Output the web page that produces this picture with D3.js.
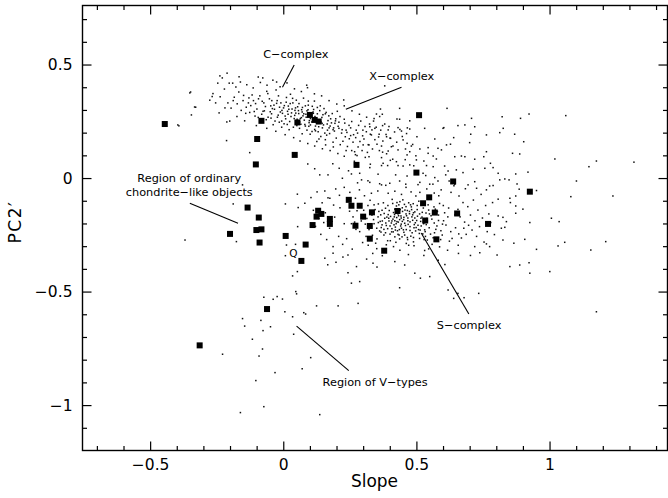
<!DOCTYPE html>
<html>
<head>
<meta charset="utf-8">
<script src="https://cdn.jsdelivr.net/npm/d3@7"></script>
<style>
  html, body { margin: 0; padding: 0; background: #fff; }
  svg { display: block; }
</style>
</head>
<body>
<svg id="chart" width="668" height="498"></svg>
<script>
// ---- axis ticks ----
const xMajor = [-0.5, 0, 0.5, 1];
const xMajorLabels = ["\u22120.5", "0", "0.5", "1"];
const yMajor = [-1, -0.5, 0, 0.5];
const yMajorLabels = ["\u22121", "\u22120.5", "0", "0.5"];
const xMinor = [-0.7, -0.6, -0.4, -0.3, -0.2, -0.1, 0.1, 0.2, 0.3, 0.4, 0.6, 0.7, 0.8, 0.9, 1.1, 1.2, 1.3, 1.4];
const yMinor = [-1.1, -0.9, -0.8, -0.7, -0.6, -0.4, -0.3, -0.2, -0.1, 0.1, 0.2, 0.3, 0.4, 0.6, 0.7];

// ---- highlighted objects (slope, PC2') ----
const objects = [
  [-0.445, 0.238], [-0.082, 0.252], [0.053, 0.245], [0.100, 0.278], [0.118, 0.256], [0.133, 0.249],
  [-0.098, 0.172], [0.043, 0.102], [-0.103, 0.060], [0.275, 0.058], [0.510, 0.277], [0.500, 0.024],
  [0.638, -0.015], [0.926, -0.060], [0.246, -0.096], [0.256, -0.122], [0.287, -0.122], [0.548, -0.085],
  [0.525, -0.111], [0.429, -0.145], [0.333, -0.151], [0.569, -0.152], [0.653, -0.156], [0.131, -0.144],
  [0.143, -0.158], [0.125, -0.170], [0.175, -0.180], [0.175, -0.202], [0.300, -0.170], [0.533, -0.187],
  [0.110, -0.207], [0.271, -0.210], [0.325, -0.211], [0.769, -0.202], [0.009, -0.255], [0.325, -0.267],
  [0.575, -0.270], [0.084, -0.293], [0.379, -0.320], [-0.134, -0.130], [-0.092, -0.174], [-0.101, -0.229],
  [-0.082, -0.226], [-0.200, -0.246], [-0.089, -0.284], [0.068, -0.365], [-0.061, -0.577], [-0.314, -0.737]
];

// ---- survey population: C- and X-complex ----
const dotsCX = [
  [0.031,0.287],[-0.112,0.341],[0.176,0.229],[0.064,0.262],[-0.047,0.318],[0.219,0.198],[0.093,0.301],[-0.184,0.356],[0.142,0.247],[0.007,0.273],
  [-0.071,0.296],[0.248,0.173],[0.118,0.214],[-0.023,0.341],[0.081,0.236],[-0.139,0.312],[0.197,0.261],[0.046,0.309],[-0.094,0.267],[0.163,0.189],
  [0.012,0.355],[0.274,0.211],[0.128,0.283],[-0.058,0.372],[0.101,0.193],[-0.208,0.331],[0.059,0.328],[0.231,0.242],[-0.031,0.251],[0.153,0.306],
  [0.086,0.268],[-0.167,0.379],[0.187,0.158],[-0.005,0.298],[0.117,0.339],[-0.126,0.289],[0.298,0.186],[0.038,0.224],[-0.079,0.338],[0.206,0.228],
  [0.071,0.291],[-0.044,0.283],[0.134,0.172],[0.019,0.317],[-0.151,0.341],[0.257,0.249],[0.097,0.244],[-0.018,0.362],[0.171,0.274],[0.052,0.259],
  [-0.099,0.304],[0.224,0.162],[0.109,0.316],[-0.064,0.257],[0.147,0.221],[-0.196,0.308],[0.003,0.239],[0.283,0.232],[0.076,0.352],[-0.035,0.321],
  [0.192,0.207],[0.124,0.259],[-0.117,0.366],[0.043,0.276],[0.241,0.139],[-0.009,0.331],[0.158,0.283],[-0.081,0.281],[0.089,0.211],[0.027,0.369],
  [-0.141,0.285],[0.213,0.271],[0.066,0.237],[-0.052,0.349],[0.137,0.297],[0.312,0.204],[-0.022,0.268],[0.102,0.262],[-0.173,0.327],[0.181,0.243],
  [0.049,0.343],[-0.067,0.315],[0.264,0.191],[0.121,0.229],[0.016,0.294],[-0.104,0.328],[0.166,0.211],[0.083,0.318],[-0.038,0.235],[0.229,0.259],
  [0.058,0.284],[-0.129,0.353],[0.145,0.267],[0.009,0.261],[0.199,0.176],[-0.088,0.362],[0.113,0.285],[0.036,0.331],[-0.014,0.312],[0.253,0.221],
  [0.168,0.253],[-0.158,0.298],[0.074,0.274],[0.131,0.204],[-0.049,0.292],[0.288,0.161],[0.024,0.249],[-0.106,0.273],[0.209,0.246],[0.094,0.339],
  [-0.027,0.388],[0.151,0.234],[0.061,0.219],[-0.073,0.331],[0.184,0.284],[0.011,0.334],[0.239,0.201],[-0.122,0.319],[0.107,0.247],[0.044,0.298],
  [-0.057,0.268],[0.174,0.196],[0.085,0.281],[-0.188,0.341],[0.139,0.318],[0.272,0.178],[-0.003,0.285],[0.119,0.271],[0.054,0.314],[-0.093,0.349],
  [0.221,0.213],[0.029,0.271],[-0.041,0.306],[0.158,0.169],[0.096,0.228],[-0.149,0.364],[0.203,0.294],[0.069,0.301],[-0.015,0.246],[0.126,0.241],
  [0.247,0.232],[-0.076,0.294],[0.035,0.351],[0.189,0.221],[0.104,0.277],[-0.131,0.331],[0.001,0.309],[0.161,0.289],[0.307,0.227],[-0.062,0.382],
  [0.079,0.255],[0.141,0.183],[-0.025,0.329],[0.233,0.182],[0.048,0.248],[-0.109,0.293],[0.196,0.252],[0.114,0.302],[-0.046,0.264],[0.021,0.303],
  [0.018,0.281],[0.057,0.297],[0.098,0.253],[0.133,0.226],[0.072,0.311],[-0.011,0.291],[0.165,0.238],[0.041,0.262],[0.112,0.291],[0.187,0.213],
  [-0.033,0.303],[0.083,0.229],[0.149,0.279],[0.026,0.328],[0.121,0.208],[0.062,0.247],[-0.019,0.277],[0.178,0.261],[0.094,0.321],[0.139,0.252],
  [0.004,0.319],[0.051,0.231],[0.209,0.219],[0.116,0.263],[-0.043,0.341],[0.077,0.283],[0.156,0.198],[0.033,0.304],[0.102,0.234],[0.194,0.241],
  [0.068,0.266],[-0.006,0.251],[0.128,0.311],[0.172,0.221],[0.047,0.286],[0.089,0.296],[0.236,0.211],[0.015,0.236],[0.146,0.241],[0.108,0.205],
  [-0.237,0.358],[-0.254,0.331],[-0.221,0.392],[-0.264,0.372],[-0.219,0.309],[-0.241,0.287],[-0.276,0.343],[-0.203,0.418],[-0.178,0.401],[-0.229,0.441],
  [-0.161,0.423],[-0.137,0.411],[-0.113,0.397],[-0.086,0.421],[-0.061,0.409],[-0.039,0.431],[-0.012,0.402],[0.014,0.419],[0.042,0.393],[0.068,0.381],
  [0.091,0.398],[0.117,0.371],[0.144,0.362],[0.172,0.341],[0.201,0.326],[0.229,0.318],[0.258,0.296],[0.286,0.281],[0.313,0.268],[0.339,0.251],
  [-0.094,0.445],[-0.077,0.441],[-0.025,0.423],[0.088,0.409],[-0.166,0.446],[-0.211,0.462],[-0.145,0.252],[-0.101,0.231],[-0.062,0.219],[-0.028,0.206],
  [0.007,0.191],[0.039,0.178],[0.063,0.163],[0.092,0.152],[0.118,0.141],[0.147,0.129],[0.176,0.121],[0.205,0.108],[0.229,0.096],[0.257,0.121],
  [-0.212,0.247],[-0.201,0.251],[-0.174,0.271],[0.022,0.213],[-0.006,0.224],[0.071,0.195],[0.126,0.161],[0.159,0.146],[0.188,0.137],[0.214,0.147],
  [0.262,0.158],[0.281,0.137],[0.303,0.172],[0.327,0.193],[0.319,0.147],[0.344,0.169],[0.296,0.121],[0.335,0.128],[0.358,0.181],[0.352,0.149],
  [0.271,0.103],[0.308,0.091],[0.366,0.211],[0.374,0.163],[0.386,0.192],[0.291,0.251],[0.324,0.238],[0.349,0.224],[0.316,0.113],[0.267,0.074],
  [0.381,0.238],[0.397,0.227],[0.341,0.262],[0.362,0.271],[0.279,0.198],[0.253,0.187],[0.299,0.211],[0.236,0.121],[0.333,0.212],[0.361,0.121],
  [0.401,0.176],[0.418,0.203],[0.426,0.158],[0.412,0.141],[0.447,0.183],[0.438,0.214],[0.463,0.196],[0.388,0.107],[0.411,0.083],[0.459,0.128],
  [0.381,0.406],[0.227,0.344],[0.437,0.307],[0.365,0.304],[0.372,0.281],[0.350,0.282],[0.475,0.252],[0.427,0.260],[0.437,0.259],[0.402,0.078],
  [0.486,0.148],[0.490,0.054],[0.498,0.098],[0.466,0.221],[0.458,0.081]
];

// ---- survey population: between the complexes ----
const dotsMid = [
  [0.325,0.226],[0.344,0.219],[0.373,0.231],[0.394,0.212],[0.431,0.222],[0.444,0.207],[0.475,0.216],[0.531,0.219],[0.600,0.219],
  [0.331,0.190],[0.360,0.193],[0.388,0.182],[0.403,0.175],[0.450,0.168],[0.502,0.182],[0.569,0.172],
  [0.300,0.146],[0.322,0.146],[0.369,0.141],[0.406,0.138],[0.465,0.153],[0.481,0.141],[0.513,0.128],[0.544,0.134],
  [0.581,0.131],[0.613,0.146],[0.628,0.149],
  [0.268,0.116],[0.277,0.099],[0.322,0.094],[0.373,0.114],[0.394,0.119],[0.431,0.124],[0.465,0.102],[0.475,0.116],
  [0.544,0.109],[0.563,0.097],[0.644,0.094],
  [0.369,0.090],[0.375,0.065],[0.425,0.072],[0.500,0.080],[0.528,0.075],[0.575,0.084],
  [0.327,0.061],[0.325,0.046],[0.369,0.055],[0.392,0.055],[0.431,0.055],[0.450,0.053],[0.475,0.058],[0.538,0.055],
  [0.563,0.050],[0.606,0.053],
  [0.256,0.018],[0.287,0.021],[0.356,0.017],[0.422,0.014],[0.465,0.009],[0.525,0.021],[0.535,0.011],[0.569,0.002],
  [0.610,0.014],[0.619,0.031],[0.650,0.036],
  [0.168,0.014],[0.222,-0.001],[0.294,-0.008],[0.325,-0.019],[0.369,-0.030],[0.400,-0.023],[0.437,-0.013],[0.460,-0.027],
  [0.513,-0.019],[0.550,-0.027],[0.581,-0.013],[0.623,-0.013],[0.644,-0.027],
  [0.137,0.014],[0.053,-0.071],[0.081,-0.111],[0.156,-0.057],[0.175,-0.089],[0.210,0.043],[0.245,0.032],[0.118,0.041],
  [0.056,-0.130],[0.008,-0.114],[0.092,0.062],[0.186,0.063],[0.054,-0.214],[0.012,-0.295]
];

// ---- survey population: S-complex ----
const dotsS = [
  [0.452,-0.183],[0.371,-0.142],[0.518,-0.211],[0.413,-0.237],[0.297,-0.168],[0.566,-0.127],[0.438,-0.104],[0.489,-0.262],[0.341,-0.201],[0.602,-0.188],
  [0.461,-0.158],[0.392,-0.276],[0.536,-0.154],[0.427,-0.192],[0.318,-0.121],[0.647,-0.219],[0.481,-0.127],[0.403,-0.169],[0.553,-0.247],[0.362,-0.233],
  [0.444,-0.221],[0.509,-0.102],[0.268,-0.194],[0.583,-0.163],[0.419,-0.137],[0.471,-0.296],[0.333,-0.163],[0.528,-0.183],[0.387,-0.209],[0.621,-0.132],
  [0.456,-0.251],[0.409,-0.094],[0.496,-0.197],[0.352,-0.268],[0.573,-0.226],[0.431,-0.158],[0.287,-0.236],[0.544,-0.118],[0.468,-0.176],[0.381,-0.177],
  [0.512,-0.266],[0.664,-0.171],[0.423,-0.283],[0.326,-0.098],[0.489,-0.153],[0.597,-0.251],[0.447,-0.131],[0.364,-0.191],[0.531,-0.228],[0.401,-0.247],
  [0.476,-0.214],[0.249,-0.146],[0.558,-0.181],[0.416,-0.206],[0.345,-0.139],[0.634,-0.266],[0.503,-0.139],[0.437,-0.268],[0.393,-0.121],[0.587,-0.112],
  [0.462,-0.227],[0.308,-0.203],[0.521,-0.172],[0.378,-0.251],[0.449,-0.096],[0.611,-0.207],[0.484,-0.241],[0.357,-0.114],[0.541,-0.273],[0.426,-0.174],
  [0.281,-0.121],[0.567,-0.198],[0.494,-0.176],[0.408,-0.223],[0.335,-0.252],[0.656,-0.138],[0.471,-0.109],[0.397,-0.189],[0.526,-0.132],[0.443,-0.203],
  [0.366,-0.162],[0.592,-0.232],[0.508,-0.227],[0.419,-0.259],[0.314,-0.178],[0.551,-0.093],[0.457,-0.141],[0.384,-0.133],[0.537,-0.205],[0.467,-0.271],
  [0.229,-0.201],[0.618,-0.171],[0.434,-0.118],[0.499,-0.218],[0.351,-0.221],[0.579,-0.147],[0.414,-0.152],[0.476,-0.193],[0.387,-0.294],[0.524,-0.246],
  [0.442,-0.167],[0.302,-0.142],[0.563,-0.263],[0.488,-0.113],[0.406,-0.198],[0.681,-0.194],[0.453,-0.239],[0.371,-0.206],[0.512,-0.158],[0.428,-0.141],
  [0.339,-0.183],[0.601,-0.121],[0.479,-0.256],[0.394,-0.161],[0.546,-0.141],[0.436,-0.227],[0.262,-0.171],[0.531,-0.196],[0.461,-0.126],[0.378,-0.226],
  [0.577,-0.211],[0.411,-0.112],[0.501,-0.187],[0.347,-0.287],[0.629,-0.236],[0.448,-0.147],[0.322,-0.227],[0.519,-0.116],[0.421,-0.216],[0.486,-0.162],
  [0.359,-0.147],[0.555,-0.166],[0.402,-0.276],[0.469,-0.204],[0.591,-0.271],[0.437,-0.183],[0.293,-0.189],[0.534,-0.257],[0.455,-0.116],[0.376,-0.109],
  [0.514,-0.229],[0.645,-0.162],[0.431,-0.248],[0.367,-0.238],[0.482,-0.139],[0.568,-0.241],[0.417,-0.171],[0.506,-0.208],[0.329,-0.146],[0.462,-0.288],
  [0.389,-0.172],[0.548,-0.219],[0.441,-0.211],[0.606,-0.153],[0.497,-0.233],[0.356,-0.171],[0.522,-0.151],[0.425,-0.123],[0.474,-0.157],[0.311,-0.257],
  [0.583,-0.187],[0.407,-0.237],[0.539,-0.178],[0.453,-0.173],[0.384,-0.241],[0.659,-0.246],[0.489,-0.281],[0.341,-0.118],[0.571,-0.137],[0.432,-0.194],
  [0.273,-0.226],[0.516,-0.191],[0.446,-0.259],[0.372,-0.189],[0.598,-0.203],[0.466,-0.143],[0.398,-0.143],[0.529,-0.271],[0.419,-0.188],[0.492,-0.205],
  [0.447,-0.191],[0.433,-0.166],[0.468,-0.188],[0.459,-0.209],[0.424,-0.201],[0.483,-0.171],[0.412,-0.181],[0.494,-0.149],[0.439,-0.139],[0.476,-0.231],
  [0.401,-0.211],[0.517,-0.177],[0.385,-0.198],[0.451,-0.228],[0.429,-0.232],[0.504,-0.168],[0.463,-0.166],[0.418,-0.161],[0.491,-0.219],[0.396,-0.177],
  [0.527,-0.201],[0.443,-0.176],[0.474,-0.147],[0.408,-0.189],[0.456,-0.199],[0.486,-0.186],[0.421,-0.229],[0.379,-0.156],[0.511,-0.244],[0.435,-0.251],
  [0.541,-0.189],[0.466,-0.262],[0.392,-0.223],[0.503,-0.121],[0.357,-0.196],[0.549,-0.158],[0.427,-0.108],[0.478,-0.118],[0.368,-0.218],[0.533,-0.236],
  [0.104,-0.086],[0.121,-0.213],[0.141,-0.248],[0.158,-0.153],[0.174,-0.221],[0.193,-0.172],[0.168,-0.087],[0.197,-0.048],[0.211,-0.076],[0.223,-0.292],
  [0.238,-0.267],[0.256,-0.201],[0.241,-0.102],[0.259,-0.313],[0.277,-0.144],[0.286,-0.052],[0.298,-0.284],[0.243,-0.339],[0.279,-0.021],[0.305,-0.078],
  [0.319,-0.296],[0.331,-0.067],[0.351,-0.311],[0.355,-0.057],[0.385,-0.032],[0.336,-0.332],[0.372,-0.342],[0.318,-0.012],[0.362,-0.025],[0.394,-0.067],
  [0.414,-0.302],[0.419,-0.058],[0.438,-0.318],[0.444,-0.072],[0.461,-0.041],[0.470,-0.337],[0.480,-0.061],[0.491,-0.298],[0.498,-0.079],[0.513,-0.063],
  [0.531,-0.319],[0.539,-0.048],[0.559,-0.292],[0.567,-0.066],[0.587,-0.303],[0.593,-0.052],[0.528,-0.341],[0.562,-0.027],[0.506,-0.029],[0.546,-0.312],
  [0.584,-0.078],[0.617,-0.318],[0.658,-0.332],[0.641,-0.034],[0.630,-0.063],[0.660,-0.079],[0.684,-0.047],[0.624,-0.278],[0.657,-0.296],[0.669,-0.264],
  [0.687,-0.248],[0.675,-0.108],[0.693,-0.126],[0.678,-0.221],[0.696,-0.208],[0.703,-0.163],[0.709,-0.229],[0.714,-0.097],[0.720,-0.188],[0.726,-0.257],
  [0.731,-0.141],[0.737,-0.214],[0.743,-0.072],[0.748,-0.176],[0.754,-0.282],[0.760,-0.121],[0.766,-0.236],[0.772,-0.158],[0.779,-0.196],[0.786,-0.108],
  [0.793,-0.249],[0.134,-0.178],[0.146,-0.109],[0.187,-0.302],[0.208,-0.257],[0.229,-0.041],[0.250,-0.063],[0.271,-0.089],[0.213,-0.131],[0.189,-0.119],
  [0.163,-0.271],[0.113,-0.142],[0.127,-0.061],[0.152,-0.196]
];

// ---- survey population: scattered outliers ----
const dotsSparse = [
  [-0.369,-0.273],[-0.176,-0.280],[0.008,-0.342],[0.046,-0.292],[0.156,-0.353],[0.187,-0.331],[0.035,-0.431],[0.053,-0.412],
  [0.047,-0.500],[0.050,-0.510],[-0.073,-0.525],[-0.038,-0.534],[-0.023,-0.522],[-0.003,-0.533],[0.006,-0.589],[0.035,-0.611],
  [0.077,-0.593],[0.084,-0.599],[0.125,-0.563],[0.206,-0.563],[-0.153,-0.619],[-0.145,-0.652],[-0.084,-0.627],[-0.048,-0.655],
  [-0.076,-0.672],[0.039,-0.688],[-0.116,-0.710],[-0.228,-0.776],[-0.078,-0.753],[-0.091,-0.784],[0.103,-0.791],[0.071,-0.840],
  [-0.031,-0.857],[-0.103,-0.892],[-0.073,-1.007],[-0.161,-1.033],[0.137,-1.042],[0.281,-0.552],[0.437,-0.483],[0.619,-0.493],
  [0.640,-0.530],[0.656,-0.508],[0.679,-0.527],[0.734,-0.508],[0.243,-0.417],[0.256,-0.463],[0.287,-0.456],[0.337,-0.375],
  [0.275,-0.390],[0.494,-0.419],[0.515,-0.441],[0.550,-0.434],[0.851,-0.390],[0.888,-0.383],[0.923,-0.373],[0.926,-0.419],
  [0.951,-0.314],[1.032,-0.299],[1.155,-0.317],[1.211,-0.280],[1.176,-0.589],[1.001,-0.412],[0.167,-0.382],[0.198,-0.371],
  [0.224,-0.348],[0.313,-0.357],[0.352,-0.392],[0.419,-0.368],[0.456,-0.383],[0.582,-0.362],[0.607,-0.381],[0.703,-0.341],
  [0.738,-0.329],[0.803,-0.339],[0.775,-0.302],[0.719,-0.302],[0.763,-0.290],[0.825,-0.273],[0.866,-0.287],[0.907,-0.270],
  [1.057,-0.283],
  [0.615,0.307],[0.707,0.263],[0.822,0.270],[0.891,0.263],[0.923,0.282],[1.061,0.275],[0.603,0.222],[0.656,0.231],
  [0.682,0.234],[0.719,0.226],[0.826,0.219],[0.640,0.178],[0.704,0.193],[0.763,0.190],[0.813,0.200],[0.869,0.193],
  [0.700,0.156],[0.903,0.160],[0.594,0.124],[0.763,0.116],[0.861,0.109],[0.888,0.106],[0.669,0.097],[0.682,0.094],
  [0.719,0.083],[0.753,0.094],[0.778,0.065],[0.788,0.046],[1.020,0.084],[1.176,0.075],[1.148,0.050],[1.317,0.070],
  [0.713,0.039],[0.675,0.024],[0.757,0.043],[0.807,0.021],[0.873,0.018],[0.919,0.026],[1.101,-0.013],[1.080,-0.082],
  [1.238,-0.079],[0.813,-0.008],[0.832,-0.004],[0.848,-0.008],[0.775,-0.035],[0.788,-0.033],[0.719,-0.016],[0.694,-0.030],
  [0.726,-0.045],[0.763,-0.052],[0.878,-0.026],[0.886,-0.049],[0.951,-0.055],[0.807,-0.093],[0.851,-0.089],[0.873,-0.079],
  [0.853,-0.108],[0.873,-0.123],[0.900,-0.137],[1.007,-0.177],[1.036,-0.192],[0.926,-0.196],[0.873,-0.155],[0.825,-0.173],
  [0.838,-0.192],[0.819,-0.221],[0.832,-0.217],[0.807,-0.167],
  [-0.392,0.230],[-0.345,0.278],[-0.213,0.165],[-0.126,0.112],[-0.188,-0.114],[-0.348,0.379],[-0.329,0.312],[-0.238,0.450],
  [-0.267,0.359],[-0.351,0.375],[-0.333,0.313],[-0.396,0.234],[-0.190,0.418],[-0.246,0.418],[-0.153,-0.030]
];

// ---- annotations (label anchor and leader line in data units) ----
const notes = [
  { lines: ["C\u2212complex"], at: [0.047, 0.529], from: [0.041, 0.498], to: [-0.003, 0.400] },
  { lines: ["X\u2212complex"], at: [0.445, 0.432], from: [0.444, 0.400], to: [0.235, 0.303] },
  { lines: ["Region of ordinary", "chondrite\u2212like objects"], at: [-0.353, -0.017], from: [-0.351, -0.111], to: [-0.170, -0.199] },
  { lines: ["Region of V\u2212types"], at: [0.345, -0.916], from: [0.050, -0.652], to: [0.246, -0.848] },
  { lines: ["S\u2212complex"], at: [0.698, -0.665], from: [0.518, -0.242], to: [0.697, -0.599] },
  { lines: ["Q"], at: [0.038, -0.348] }
];

const xTitle = "Slope";
const yTitle = "PC2\u2032";

(function draw() {
  const mLeft = 82.5, mRight = 667.5, mTop = 5.5, mBottom = 450.5;
  const font = "'DejaVu Sans', sans-serif";

  const x = d3.scaleLinear().domain([-0.754, 1.443]).range([mLeft, mRight]);
  const y = d3.scaleLinear().domain([-1.2, 0.76]).range([mBottom, mTop]);

  const svg = d3.select("#chart");
  const plot = svg.append("g");

  // population dots
  const allDots = dotsCX.concat(dotsMid, dotsS, dotsSparse);
  const ds = 1.5;
  plot.append("g").selectAll("rect").data(allDots).join("rect")
    .attr("x", d => x(d[0]) - ds / 2)
    .attr("y", d => y(d[1]) - ds / 2)
    .attr("width", ds).attr("height", ds)
    .attr("fill", "#111");

  // highlighted objects
  const ss = 6;
  plot.append("g").selectAll("rect").data(objects).join("rect")
    .attr("x", d => x(d[0]) - ss / 2)
    .attr("y", d => y(d[1]) - ss / 2)
    .attr("width", ss).attr("height", ss)
    .attr("fill", "#000");

  // annotation leaders and labels
  const ann = svg.append("g");
  notes.forEach(n => {
    if (n.from) {
      ann.append("line")
        .attr("x1", x(n.from[0])).attr("y1", y(n.from[1]))
        .attr("x2", x(n.to[0])).attr("y2", y(n.to[1]))
        .attr("stroke", "#000").attr("stroke-width", 1.1);
    }
    const t = ann.append("text")
      .attr("x", x(n.at[0])).attr("y", y(n.at[1]))
      .attr("text-anchor", "middle")
      .attr("font-family", font)
      .attr("font-size", n.lines[0] === "Q" ? 10.5 : 11.3)
      .attr("fill", "#000");
    n.lines.forEach((s, i) => {
      t.append("tspan").attr("x", x(n.at[0])).attr("dy", i === 0 ? 0 : 14).text(s);
    });
  });

  // axes: inward ticks on all four sides
  function styleAxis(g) {
    g.select(".domain").remove();
    g.selectAll("line").attr("stroke", "#000").attr("stroke-width", 1.2);
    g.selectAll("text").attr("font-family", font).attr("font-size", 15.5).attr("fill", "#000");
  }

  svg.append("g").attr("transform", `translate(0,${mBottom})`)
    .call(d3.axisBottom(x).tickValues(xMajor).tickFormat((d, i) => xMajorLabels[i]).tickSizeInner(-9).tickSizeOuter(0).tickPadding(8))
    .call(styleAxis);
  svg.append("g").attr("transform", `translate(0,${mBottom})`)
    .call(d3.axisBottom(x).tickValues(xMinor).tickFormat("").tickSizeInner(-4.5).tickSizeOuter(0))
    .call(styleAxis);
  svg.append("g").attr("transform", `translate(0,${mTop})`)
    .call(d3.axisTop(x).tickValues(xMajor).tickFormat("").tickSizeInner(-9).tickSizeOuter(0))
    .call(styleAxis);
  svg.append("g").attr("transform", `translate(0,${mTop})`)
    .call(d3.axisTop(x).tickValues(xMinor).tickFormat("").tickSizeInner(-4.5).tickSizeOuter(0))
    .call(styleAxis);

  svg.append("g").attr("transform", `translate(${mLeft},0)`)
    .call(d3.axisLeft(y).tickValues(yMajor).tickFormat((d, i) => yMajorLabels[i]).tickSizeInner(-9).tickSizeOuter(0).tickPadding(10))
    .call(styleAxis);
  svg.append("g").attr("transform", `translate(${mLeft},0)`)
    .call(d3.axisLeft(y).tickValues(yMinor).tickFormat("").tickSizeInner(-4.5).tickSizeOuter(0))
    .call(styleAxis);
  svg.append("g").attr("transform", `translate(${mRight},0)`)
    .call(d3.axisRight(y).tickValues(yMajor).tickFormat("").tickSizeInner(-9).tickSizeOuter(0))
    .call(styleAxis);
  svg.append("g").attr("transform", `translate(${mRight},0)`)
    .call(d3.axisRight(y).tickValues(yMinor).tickFormat("").tickSizeInner(-4.5).tickSizeOuter(0))
    .call(styleAxis);

  // frame
  svg.append("rect")
    .attr("x", mLeft).attr("y", mTop)
    .attr("width", mRight - mLeft).attr("height", mBottom - mTop)
    .attr("fill", "none").attr("stroke", "#000").attr("stroke-width", 1.4);

  // axis titles
  svg.append("text")
    .attr("x", (mLeft + mRight) / 2 - 0.5).attr("y", 487)
    .attr("text-anchor", "middle")
    .attr("font-family", font).attr("font-size", 17).attr("fill", "#000")
    .text(xTitle);
  svg.append("text")
    .attr("transform", "translate(21,222) rotate(-90)")
    .attr("text-anchor", "middle")
    .attr("font-family", font).attr("font-size", 17).attr("letter-spacing", 1.5).attr("fill", "#000")
    .text(yTitle);
})();
</script>
</body>
</html>
